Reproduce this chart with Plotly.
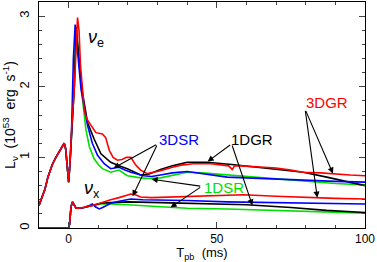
import plotly.graph_objects as go

# ---- data ----
pre_t = [-10, -8, -7, -5.5, -4.3, -3, -2, -1.5, -1, -0.5, 0, 0.5, 1]
pre_y = [0.32, 0.55, 0.72, 0.90, 1.00, 1.10, 1.17, 1.20, 1.12, 0.85, 0.65, 0.95, 1.40]

red_e_t = [1.9, 2.5, 3.0, 3.5, 4.0, 4.7, 5.2, 6.0, 7.5, 9.2, 11.4, 12.5, 13.7, 15, 16.5, 18, 19.5, 21, 22.5, 24.3, 26.6, 28, 31, 35, 38, 42, 45, 48, 52, 54, 55.2, 56, 58, 62, 65, 70, 75, 79, 85, 90, 95, 100]
red_e_y = [1.96, 2.60, 2.98, 2.80, 2.30, 1.96, 1.68, 1.55, 1.45, 1.35, 1.33, 1.28, 1.10, 1.00, 0.96, 0.97, 1.00, 1.00, 0.90, 0.82, 0.77, 0.78, 0.81, 0.86, 0.89, 0.91, 0.91, 0.91, 0.89, 0.88, 0.83, 0.88, 0.88, 0.87, 0.87, 0.85, 0.82, 0.79, 0.78, 0.76, 0.75, 0.74]

black_e_t = [1.9, 2.5, 3.2, 4.5, 6.4, 8.6, 10.9, 14.2, 17, 19.8, 24.3, 27, 31, 35, 40, 46.8, 55, 64.7, 72, 79.2, 87.1, 93, 100]
black_e_y = [2.00, 2.85, 2.50, 1.96, 1.49, 1.26, 1.05, 0.93, 0.88, 0.84, 0.75, 0.76, 0.83, 0.88, 0.93, 0.93, 0.90, 0.86, 0.83, 0.79, 0.72, 0.67, 0.60]

blue_e_t = [1.6, 2.2, 3.0, 4.2, 6.4, 8.0, 9.75, 12, 14.2, 17, 19, 21, 25.3, 28, 31, 35, 40, 45, 53.5, 60, 70.3, 80, 90, 100]
blue_e_y = [2.40, 2.88, 2.50, 1.96, 1.45, 1.20, 1.03, 0.91, 0.84, 0.86, 0.82, 0.79, 0.74, 0.73, 0.75, 0.78, 0.80, 0.77, 0.72, 0.71, 0.69, 0.67, 0.66, 0.65]

green_e_t = [1.9, 2.5, 3.2, 4.5, 5.8, 7.0, 8.6, 10, 11.4, 14.2, 17, 19.8, 24.3, 27, 31, 35, 40, 45, 53.5, 64.7, 72, 81.5, 90, 100]
green_e_y = [2.00, 2.85, 2.50, 1.90, 1.40, 1.15, 0.98, 0.90, 0.84, 0.79, 0.82, 0.74, 0.71, 0.70, 0.71, 0.75, 0.79, 0.78, 0.75, 0.71, 0.69, 0.66, 0.63, 0.61]

x_pre_t = [-10, 0, 0.3, 0.8, 1.3, 2.0, 2.5, 3.5, 5.2]
x_pre_y = [0, 0, 0.05, 0.30, 0.37, 0.31, 0.28, 0.28, 0.29]

red_x_t = [7, 9, 11, 14.2, 17, 19, 21, 22.5, 24.3, 28, 35, 42.3, 50, 59, 70, 81.5, 90, 100]
red_x_y = [0.31, 0.33, 0.36, 0.40, 0.43, 0.46, 0.48, 0.47, 0.44, 0.43, 0.44, 0.44, 0.46, 0.47, 0.45, 0.43, 0.42, 0.41]

blue_x_t = [7, 8, 9, 10.3, 11.5, 14.2, 17, 21, 25, 31, 40, 53.5, 70, 85, 100]
blue_x_y = [0.32, 0.34, 0.30, 0.27, 0.29, 0.35, 0.38, 0.41, 0.40, 0.40, 0.39, 0.37, 0.36, 0.35, 0.34]

black_x_t = [8, 11, 14.2, 20, 31, 45, 60, 75, 87, 100]
black_x_y = [0.32, 0.35, 0.36, 0.37, 0.36, 0.35, 0.33, 0.29, 0.25, 0.22]

green_x_t = [8, 11, 14.2, 20, 31, 40, 53.5, 70, 85, 100]
green_x_y = [0.32, 0.34, 0.34, 0.33, 0.30, 0.28, 0.27, 0.25, 0.23, 0.21]

x_ticks = [0, 50, 100]
y_ticks = [0, 1, 2, 3]

RED, BLUE, BLACK, GREEN = "#ff0000", "#0000ff", "#000000", "#00e000"
FONT = "Liberation Sans, Arial, sans-serif"

fig = go.Figure()

def add(t, y, color):
    fig.add_trace(go.Scatter(x=t, y=y, mode="lines",
                             line=dict(color=color, width=1.6), showlegend=False,
                             hoverinfo="skip"))

for (et, ey, xt, xy, c) in [
    (green_e_t, green_e_y, green_x_t, green_x_y, GREEN),
    (black_e_t, black_e_y, black_x_t, black_x_y, BLACK),
    (blue_e_t, blue_e_y, blue_x_t, blue_x_y, BLUE),
    (red_e_t, red_e_y, red_x_t, red_x_y, RED),
]:
    add(pre_t + et, pre_y + ey, c)
    add(x_pre_t + xt, x_pre_y + xy, c)

# labels
labels = [
    ("3DSR", 37.2, 1.26, BLUE),
    ("1DGR", 62.0, 1.26, BLACK),
    ("1DSR", 52.3, 0.57, GREEN),
    ("3DGR", 87.2, 1.78, RED),
]
for txt, lx, ly, c in labels:
    fig.add_annotation(x=lx, y=ly, text=txt, showarrow=False,
                       font=dict(color=c, size=15, family=FONT))

arrows = [
    (30.0, 1.19, 15.2, 0.85), (30.0, 1.19, 21.6, 0.45),
    (55.0, 1.19, 46.9, 0.94), (55.0, 1.19, 62.0, 0.32),
    (44.9, 0.59, 28.0, 0.69), (44.9, 0.59, 34.4, 0.29),
    (79.8, 1.68, 89.2, 0.77), (79.8, 1.68, 83.9, 0.43),
]
for tx, ty, hx, hy in arrows:
    fig.add_annotation(x=hx, y=hy, ax=tx, ay=ty, axref="x", ayref="y",
                       xref="x", yref="y", text="", showarrow=True,
                       arrowhead=2, arrowsize=1.1, arrowwidth=1.1, arrowcolor="black")

fig.add_annotation(x=9.4, y=2.68, text="<i>ν</i><sub>e</sub>", showarrow=False,
                   font=dict(size=18, family=FONT, color="black"))
fig.add_annotation(x=7.8, y=0.54, text="<i>ν</i><sub>x</sub>", showarrow=False,
                   font=dict(size=18, family=FONT, color="black"))

fig.update_layout(
    width=377, height=262,
    margin=dict(l=37, r=12, t=1, b=32),
    paper_bgcolor="white", plot_bgcolor="white",
    font=dict(family=FONT, size=13, color="black"),
)
fig.update_xaxes(range=[-10, 100], tickvals=x_ticks, ticks="inside", ticklen=6,
                 tickfont=dict(size=12),
                 showline=True, linecolor="black", linewidth=1, mirror="ticks",
                 showgrid=False, zeroline=False,
                 minor=dict(dtick=10, tick0=0, ticks="inside", ticklen=3, showgrid=False),
                 title=dict(text="T<sub>pb</sub>  (ms)", standoff=5, font=dict(size=13)))
fig.update_yaxes(range=[0, 3.2], tickvals=y_ticks, ticks="inside", ticklen=6,
                 tickangle=-90, ticklabelstandoff=4,
                 showline=True, linecolor="black", linewidth=1, mirror="ticks",
                 showgrid=False, zeroline=False,
                 minor=dict(dtick=0.2, tick0=0, ticks="inside", ticklen=3, showgrid=False),
                 title=dict(text="L<sub>ν</sub>  (10<sup>53</sup>  erg  s<sup>-1</sup>)", standoff=6, font=dict(size=14)))

fig.write_html("out.html", config={"displayModeBar": False},
               post_script="document.body.style.margin='0';document.body.style.overflow='hidden';")
